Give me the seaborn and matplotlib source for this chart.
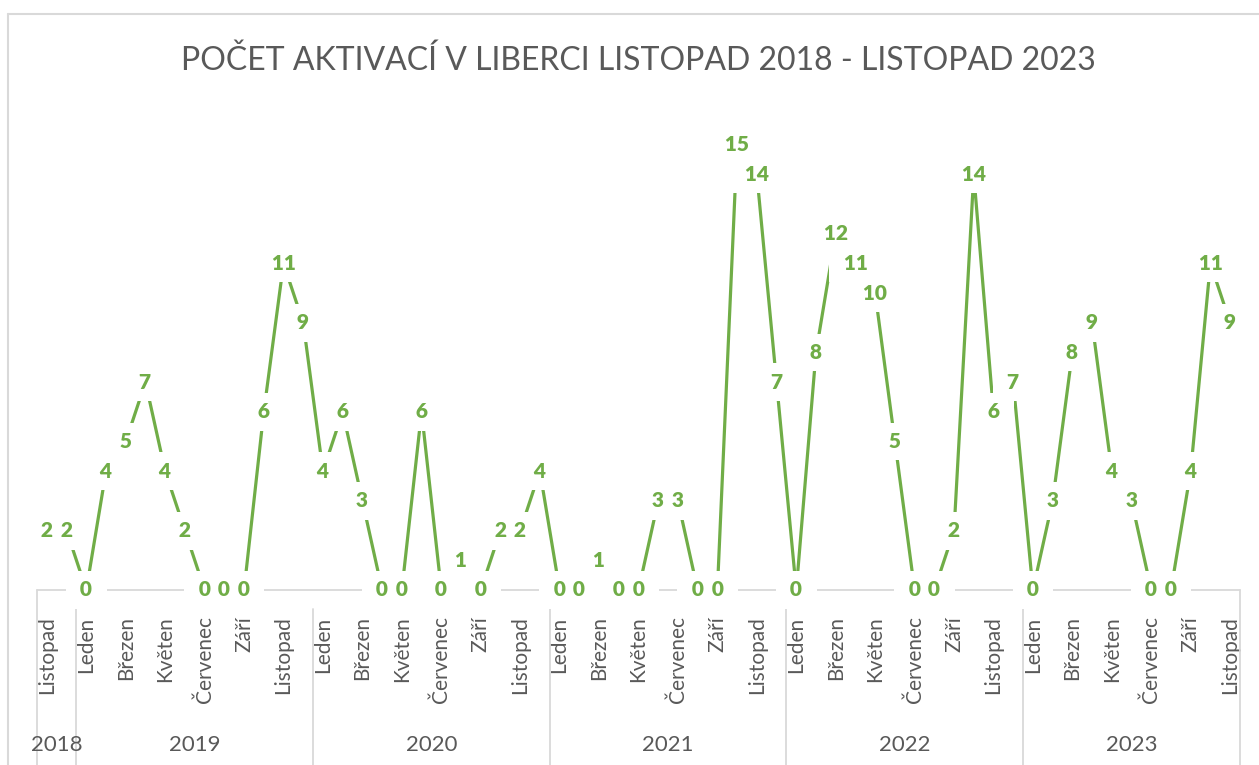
import pandas as pd
import matplotlib
matplotlib.use('Agg')
import matplotlib.pyplot as plt
from matplotlib.lines import Line2D
import seaborn as sns

mesice = ['Leden', 'Únor', 'Březen', 'Duben', 'Květen', 'Červen', 'Červenec',
          'Srpen', 'Září', 'Říjen', 'Listopad', 'Prosinec']
roky = ['2018', '2019', '2020', '2021', '2022', '2023']
pocty_2018 = [2, 2]  # listopad, prosinec
pocty_2019 = [0, 4, 5, 7, 4, 2, 0, 0, 0, 6, 11, 9]
pocty_2020 = [4, 6, 3, 0, 0, 6, 0, 1, 0, 2, 2, 4]
pocty_2021 = [0, 0, 1, 0, 0, 3, 3, 0, 0, 15, 14, 7]
pocty_2022 = [0, 8, 12, 11, 10, 5, 0, 0, 2, 14, 6, 7]
pocty_2023 = [0, 3, 8, 9, 4, 3, 0, 0, 4, 11, 9]  # do listopadu
prvni_mesic = [10, 0, 0, 0, 0, 0]

rows = []
for rok, start, pocty in zip(roky, prvni_mesic,
                             [pocty_2018, pocty_2019, pocty_2020, pocty_2021, pocty_2022, pocty_2023]):
    for k, p in enumerate(pocty):
        rows.append({'rok': rok, 'mesic': mesice[start + k], 'pocet': p})
df = pd.DataFrame(rows)
df['poradi'] = range(len(df))

green = '#70AD47'
gray = '#595959'
light = '#D9D9D9'

sns.set_style('white')
plt.rcParams['font.family'] = ['Lato', 'DejaVu Sans']

fig = plt.figure(figsize=(12.59, 7.65), dpi=100)
ax = fig.add_axes([37 / 1259, 1 - 590 / 765, (1240 - 37) / 1259, 475 / 765])
sns.lineplot(data=df, x='poradi', y='pocet', color=green, linewidth=2.3, ax=ax, zorder=2)
ax.set_xlim(-0.5, len(df) - 0.5)
ax.set_ylim(0, 16)
sns.despine(ax=ax, left=True, bottom=True)
ax.axhline(0, color=light, lw=1.3, zorder=1, clip_on=False)

# popisky hodnot: nejdriv bile podklady, pak samotna cisla
for x, y in zip(df['poradi'], df['pocet']):
    ax.text(x, y, f' {y} ', ha='center', va='center', fontsize=15, fontweight='heavy',
            color=(0, 0, 0, 0), zorder=3,
            bbox=dict(facecolor='white', edgecolor='none', boxstyle='square,pad=0.45'))
    ax.text(x, y, f' {y} ', ha='center', va='center', fontsize=15, fontweight='heavy',
            color=green, zorder=4)

ax.set_yticks([])
ax.set_xlabel('')
ax.set_ylabel('')
ax.set_xticks(df['poradi'][::2])
ax.set_xticklabels(df['mesic'][::2], rotation=90, fontsize=15, color=gray)
ax.tick_params(axis='x', length=0, pad=19)

# roky pod mesici + oddelovace
tr = ax.get_xaxis_transform()
hranice = df.groupby('rok')['poradi'].agg(['min', 'max'])
for rok, r in hranice.iterrows():
    ax.text((r['min'] + r['max']) / 2, -0.326, rok, transform=tr, ha='center', va='center',
            fontsize=16, color=gray)
    ax.plot([r['min'] - 0.5] * 2, [-0.04 if r['min'] > 0 else 0, -0.37], transform=tr,
            color=light, lw=1.3, clip_on=False)
ax.plot([len(df) - 0.5] * 2, [0, -0.37], transform=tr, color=light, lw=1.3, clip_on=False)

fig.text(0.507, 0.921, 'POČET AKTIVACÍ V LIBERCI LISTOPAD 2018 - LISTOPAD 2023',
         ha='center', va='center', fontsize=23, color=gray)

fig.add_artist(Line2D([8 / 1259, 1], [1 - 14 / 765] * 2, color=light, lw=1.5))
fig.add_artist(Line2D([8 / 1259] * 2, [0, 1 - 14 / 765], color=light, lw=1.5))

fig.savefig('out.png', dpi=100)
